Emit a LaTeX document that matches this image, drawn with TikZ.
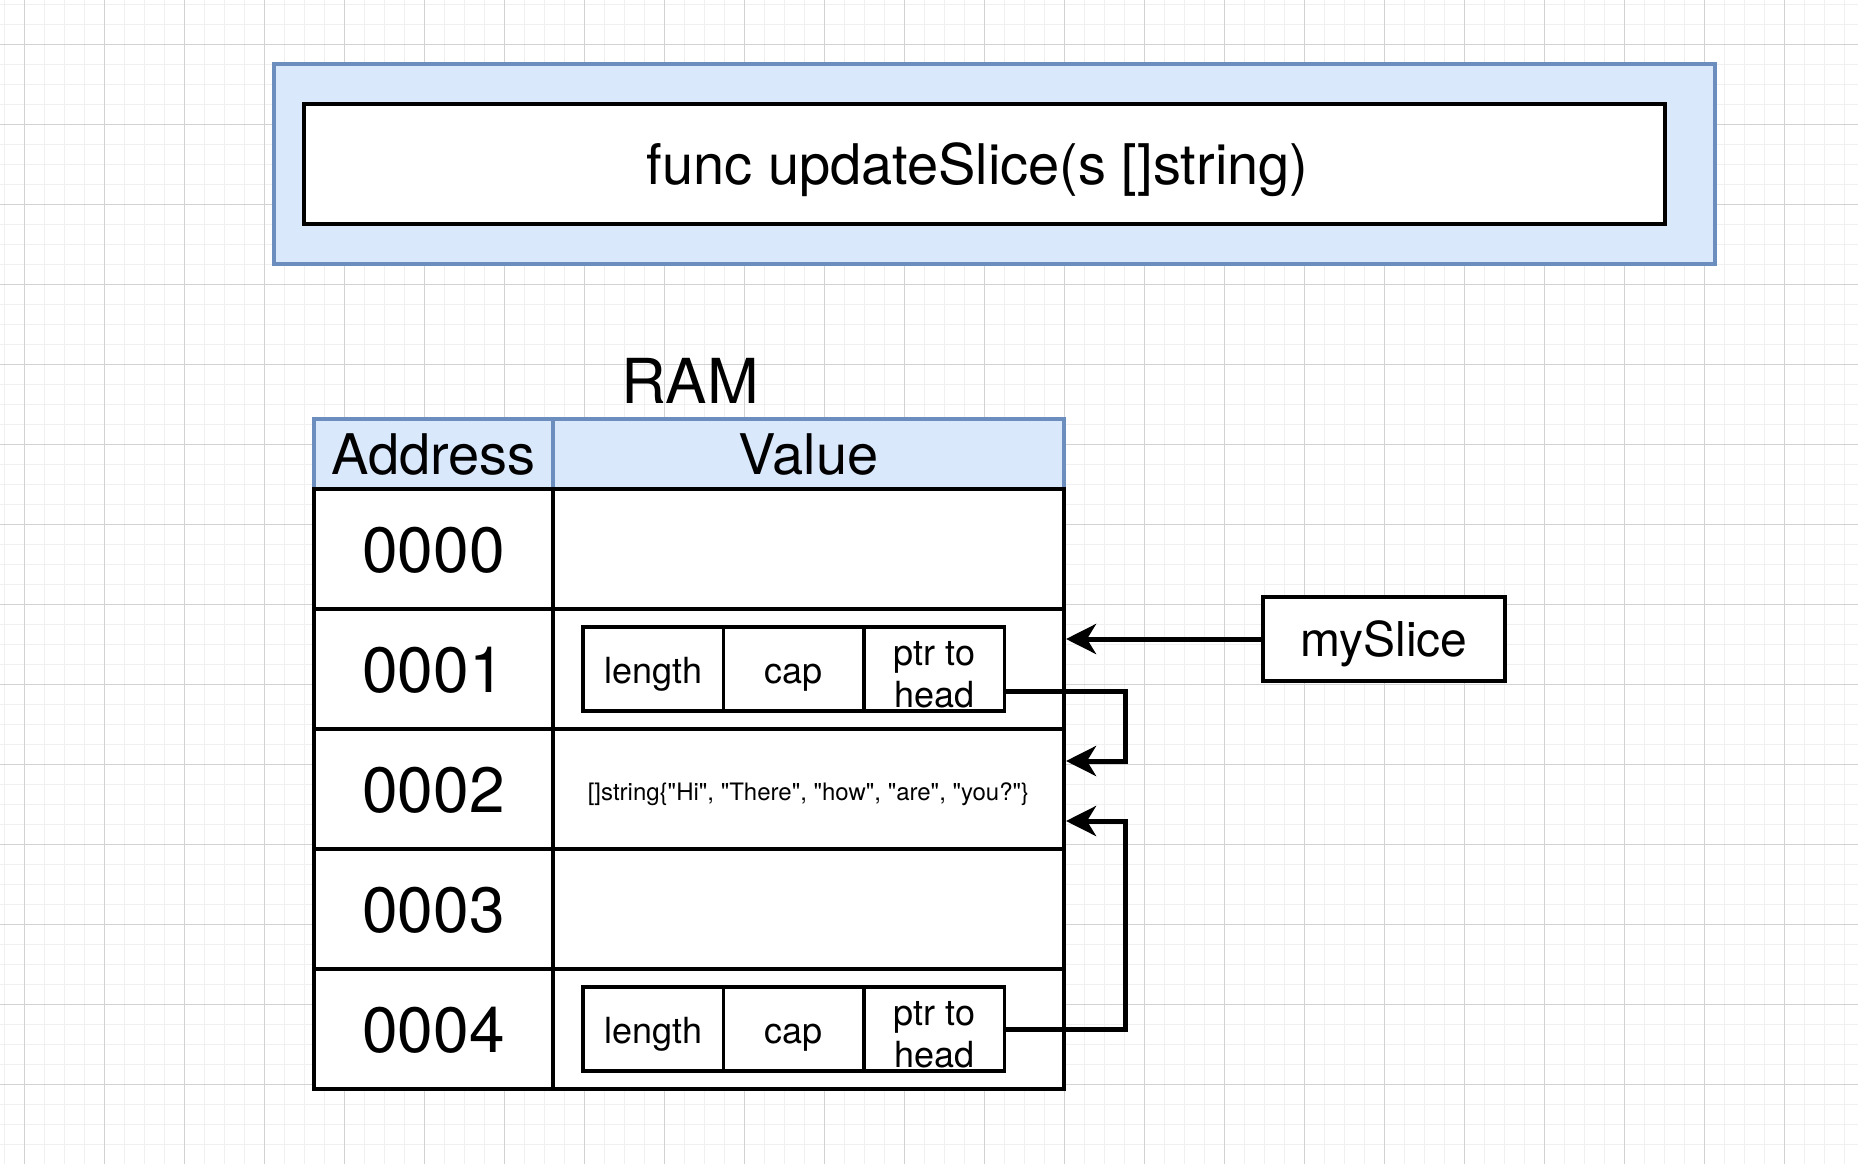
\documentclass[tikz,border=0pt]{standalone}
\usepackage{fontspec}
\setmainfont{TeX Gyre Heros}[Ligatures=TeXOff]
\usetikzlibrary{positioning}
\usetikzlibrary{arrows.meta}
\definecolor{frameblue}{HTML}{6C8EBF}
\definecolor{fillblue}{HTML}{DAE8FC}
\definecolor{minorgrid}{HTML}{F0F0F0}
\definecolor{majorgrid}{HTML}{D2D2D2}
\tikzstyle{minor line}=[draw=minorgrid, line width=1.3pt]
\tikzstyle{major line}=[draw=majorgrid, line width=1.2pt]
\tikzstyle{callframe}=[draw=frameblue, fill=fillblue, line width=3.5pt, minimum width=1441pt, minimum height=200pt]
\tikzstyle{signature}=[draw, fill=white, line width=4pt, minimum width=1361pt, minimum height=120pt, inner sep=0]
\tikzstyle{big text}=[inner sep=0, text depth=0pt, font=\fontsize{56}{67}\selectfont]
\tikzstyle{title text}=[inner sep=0, text depth=0pt, font=\fontsize{62}{74}\selectfont]
\tikzstyle{header cell}=[draw=frameblue, fill=fillblue, line width=3.5pt, minimum height=70pt, inner sep=0, text depth=0pt, font=\fontsize{56}{67}\selectfont]
\tikzstyle{address cell}=[draw, fill=white, line width=4pt, minimum width=239pt, minimum height=120pt, inner sep=0, text depth=0pt, font=\fontsize{64}{76}\selectfont]
\tikzstyle{value cell}=[draw, fill=white, line width=4pt, minimum width=511pt, minimum height=120pt, inner sep=0]
\tikzstyle{field}=[draw, line width=3.5pt, outer sep=0, minimum width=140.5pt, minimum height=84pt, inner sep=0, text height=28pt, text depth=0pt, align=center, font=\fontsize{36}{42}\selectfont]
\tikzstyle{slice box}=[draw, fill=white, line width=4pt, minimum width=242pt, minimum height=84pt, inner sep=0, text depth=0pt, font=\fontsize{48}{57}\selectfont]
\tikzstyle{pointer}=[line width=5pt, -{Stealth[length=30pt, width=30pt, inset=9pt]}]

\begin{document}
\begin{tikzpicture}[x=1pt, y=-1pt]
  \useasboundingbox (0,0) rectangle (1858,1164);
  % grid paper
  \fill[white] (0,0) rectangle (1858,1164);
  \foreach \i in {0,...,92}
    \draw[minor line] (4.3+20*\i, 0) -- (4.3+20*\i, 1164);
  \foreach \j in {0,...,58}
    \draw[minor line] (0, 4.3+20*\j) -- (1858, 4.3+20*\j);
  \foreach \i in {0,...,22}
    \draw[major line] (24.3+80*\i, 0) -- (24.3+80*\i, 1164);
  \foreach \j in {0,...,14}
    \draw[major line] (0, 44.3+80*\j) -- (1858, 44.3+80*\j);

  % function frame
  \node[callframe] (frame) at (994.5, 164) {};
  \node[signature] (sig) at (984.5, 164) {};
  \node[big text] (sigtext) at ([xshift=-7pt]sig.center) {func updateSlice(s []string)};

  % memory table
  \node[title text] (ram) at (690, 381) {RAM};
  \node[header cell, minimum width=239pt] (addrhead) at (433.5, 454) {Address};
  \node[header cell, minimum width=511pt] (valhead) at (808.5, 454) {Value};
  \foreach \n [count=\k from 0] in {0000,0001,0002,0003,0004} {
    \node[address cell] (addr\k) at (433.5, 549+120*\k) {\raisebox{-2pt}{\n}};
    \node[value cell] (val\k) at (808.5, 549+120*\k) {};
  }
  \node[font=\fontsize{24}{29}\selectfont, inner sep=0] (strings) at ([yshift=-5pt]val2.center)
    {[]string\{"Hi", "There", "how", "are", "you?"\}};

  % slice headers
  \foreach \k in {1,4} {
    \node[field, anchor=west] (len\k) at ([xshift=32pt]val\k.west) {length};
    \node[field, right=0pt of len\k] (cap\k) {cap};
    \node[field, text height=76pt, right=0pt of cap\k] (ptr\k) {ptr to\\head};
  }

  \node[slice box] (slice) at (1384, 639) {mySlice};

  \draw[pointer] (slice.west) -- (slice.west -| val1.east);
  \draw[pointer] ([yshift=-22pt]ptr1.east) -- ++(120.5,0) |- ([yshift=28pt]val2.east);
  \draw[pointer] (ptr4.east) -- ++(120.5,0) |- ([yshift=-32pt]val2.east);
\end{tikzpicture}
\end{document}
